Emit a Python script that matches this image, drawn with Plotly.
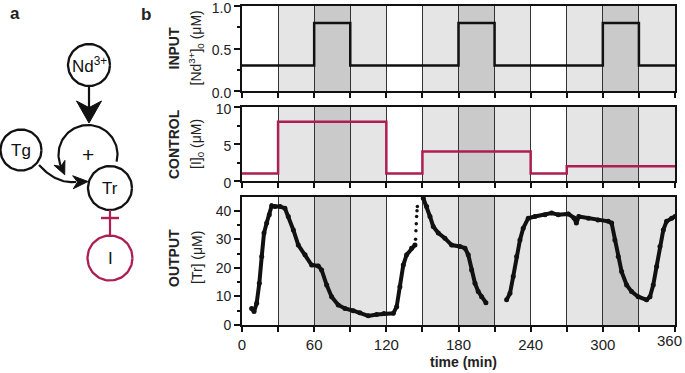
import numpy as np
import plotly.graph_objects as go

W, H = 685, 373

# ---------------- data ----------------
phase_start = [0, 30, 60, 90, 120, 150, 180, 210, 240, 270, 300, 330]
phase_shade = [0, 1, 2, 1, 0, 1, 2, 1, 0, 1, 2, 1]   # 0 white, 1 light, 2 dark
phase_len = 30

input_t = [0, 60, 90, 180, 210, 300, 330, 360]
input_v = [0.3, 0.8, 0.3, 0.8, 0.3, 0.8, 0.3, 0.3]

control_t = [0, 30, 120, 150, 240, 270, 360]
control_v = [1, 8, 1, 4, 1, 2, 2]

out1_t = [8, 10, 12.2, 14.4, 16.4, 18.3, 20.5, 22.7, 24.7, 27.4, 31.6, 35.7, 38.5, 42.7, 46.8,
          52.4, 57.9, 63.4, 66.2, 70.4, 74.5, 80, 85.6, 92.5, 98, 105, 112, 118, 125.8, 128.6,
          131.3, 134.1, 136.9, 141, 143.8]
out1_v = [5.8, 4.7, 7.6, 14.6, 24, 32.2, 35.7, 38.6, 41.8, 41.5, 41.5, 40.9, 38, 33.3, 28,
          24.6, 21, 20.7, 19.3, 14, 9.9, 7, 5.8, 5, 4.3, 3.2, 3.7, 4.0, 4.1, 6.4,
          13.4, 21, 24.6, 26.9, 28]
sparse_t = [144.3, 144.6, 144.9, 145.2, 145.5, 145.8]
sparse_v = [30, 33, 35.5, 38, 40, 41.5]
out2_t = [150.7, 153.5, 156.3, 159, 163.2, 168.7, 174.3, 181.2, 185.4, 188.1, 190.9, 193.7,
          196.4, 199.2, 202.8]
out2_v = [44.4, 41.5, 38, 34.5, 32.2, 30.4, 28, 27.5, 26.9, 24.6, 19.3, 14.6, 11.7, 9.9, 7.8]
out3_t = [220, 222.8, 225.5, 228.3, 231.1, 233.8, 238, 243.5, 251.9, 257.4, 263, 271.3, 276,
          278, 280, 288, 296, 304.5, 307.3, 310, 312.8, 315.6, 319.8, 323.9, 329.4, 336.4,
          339.2, 341.9, 344.7, 347.5, 350.3, 353, 357.2, 360]
out3_v = [8.8, 11.1, 17, 24, 29.8, 33.9, 37.4, 38, 38.6, 39.2, 38.6, 38.9, 37.5,
          35.7, 38, 37.4, 36.8, 36.3, 35.7, 29.8, 24, 18.7, 14, 11.7, 9.9, 8.8,
          9.9, 14, 20.5, 27.5, 33.3, 36.3, 37.4, 38]

x_major = [0, 60, 120, 180, 240, 300]
x_minor = [30, 90, 150, 210, 270, 330, 360]
x_last_label = "360"

# ---------------- style ----------------
FONT = "Liberation Sans, Arial, sans-serif"
BLACK = "#111111"
CRIMSON = "#ad1f52"
SHADES = ["rgba(0,0,0,0)", "#e5e5e5", "#cacaca"]
TXT = "#222222"

def py(p):
    return 1 - p / H

def pxx(p):
    return p / W

fig = go.Figure()

# panel b traces
fig.add_trace(go.Scatter(x=input_t, y=input_v, mode="lines", line=dict(color=BLACK, width=2.5, shape="hv"),
                         xaxis="x", yaxis="y", hoverinfo="skip"))
fig.add_trace(go.Scatter(x=control_t, y=control_v, mode="lines", line=dict(color=CRIMSON, width=2.5, shape="hv"),
                         xaxis="x2", yaxis="y2", hoverinfo="skip"))
ot = out1_t + [None] + out2_t + [None] + out3_t
ov = out1_v + [None] + out2_v + [None] + out3_v
fig.add_trace(go.Scatter(x=ot, y=ov, mode="lines+markers", line=dict(color=BLACK, width=4),
                         marker=dict(color=BLACK, size=5), xaxis="x3", yaxis="y3", hoverinfo="skip",
                         connectgaps=False))
fig.add_trace(go.Scatter(x=sparse_t, y=sparse_v, mode="markers", marker=dict(color=BLACK, size=3.5),
                         xaxis="x3", yaxis="y3", hoverinfo="skip"))

# shading
shapes = []
for yr in ["y", "y2", "y3"]:
    xr = {"y": "x", "y2": "x2", "y3": "x3"}[yr]
    for s, lev in zip(phase_start, phase_shade):
        if lev == 0:
            continue
        shapes.append(dict(type="rect", xref=xr, yref=yr + " domain", x0=s, x1=s + phase_len, y0=0, y1=1,
                           fillcolor=SHADES[lev], line=dict(width=0), layer="below"))

# ---------------- panel a diagram (pixel-space axis) ----------------
def circle(cx, cy, r, n=90):
    a = np.linspace(0, 2 * np.pi, n)
    return list(cx + r * np.cos(a)), list(cy + r * np.sin(a))

def arrowhead(tip, d, length, halfw, notch=0.3):
    d = np.array(d, float); d /= np.linalg.norm(d)
    n = np.array([-d[1], d[0]])
    tip = np.array(tip, float)
    base = tip - d * length
    p1 = base + n * halfw
    p2 = base - n * halfw
    pn = base + d * length * notch
    pts = [tip, p1, pn, p2, tip]
    return [p[0] for p in pts], [p[1] for p in pts]

def add_line(xs, ys, color=BLACK, width=2.2, fill=False):
    fig.add_trace(go.Scatter(x=xs, y=ys, mode="lines", line=dict(color=color, width=width),
                             fill="toself" if fill else None, fillcolor=color if fill else None,
                             xaxis="x4", yaxis="y4", hoverinfo="skip"))

for (cx, cy, r, col) in [(89, 65, 21, BLACK), (21, 150, 20.5, BLACK), (110, 188, 22, BLACK), (110, 258, 22.5, CRIMSON)]:
    xs, ys = circle(cx, cy, r)
    add_line(xs, ys, col, 2.3)

# Nd -> loop arrow
add_line([89, 89], [86, 108])
ax_, ay_ = arrowhead((89, 123), (0, 1), 22, 12.5, 0.3)
add_line(ax_, ay_, BLACK, 1, fill=True)

# loop arc
th = np.radians(np.linspace(-14, 204, 80))
lcx, lcy, lr = 88, 154.5, 29.5
add_line(list(lcx + lr * np.cos(th)), list(lcy - lr * np.sin(th)))
te = th[-1]
endp = (lcx + lr * np.cos(te), lcy - lr * np.sin(te))
tang = (-np.sin(te), -np.cos(te))
ax_, ay_ = arrowhead((endp[0] + 9 * tang[0], endp[1] + 9 * tang[1]), tang, 13, 6, 0.3)
add_line(ax_, ay_, BLACK, 1, fill=True)

# Tg -> Tr curve
tt = np.linspace(0, 1, 40)
P0, P1, P2 = np.array([39, 165]), np.array([56, 184]), np.array([76, 182])
bz = np.outer((1 - tt) ** 2, P0) + np.outer(2 * (1 - tt) * tt, P1) + np.outer(tt ** 2, P2)
add_line(list(bz[:, 0]), list(bz[:, 1]))
ax_, ay_ = arrowhead((88, 181.5), (1, -0.05), 15, 6.5, 0.3)
add_line(ax_, ay_, BLACK, 1, fill=True)

# inhibition
add_line([110, 110], [210, 235.5], CRIMSON, 2.2)
add_line([101, 119], [218, 218], CRIMSON, 2.4)

annotations = []
def ann4(x, y, text, size=16, color=BLACK, bold=False):
    annotations.append(dict(xref="x4", yref="y4", x=x, y=y, text=("<b>%s</b>" % text) if bold else text,
                            showarrow=False, xanchor="center", yanchor="middle",
                            font=dict(family=FONT, size=size, color=color)))

ann4(89, 65, "Nd<sup>3+</sup>", 17)
ann4(21, 150, "Tg", 17)
ann4(110, 188, "Tr", 17)
ann4(110, 258, "I", 17)
ann4(88, 154, "+", 21)

def annp(x, y, text, size=14, angle=0, xanchor="center"):
    annotations.append(dict(xref="paper", yref="paper", x=pxx(x), y=py(y), text=text, showarrow=False,
                            xanchor=xanchor, yanchor="middle", textangle=angle,
                            font=dict(family=FONT, size=size, color=TXT)))

annp(15, 13, "<b>a</b>", 17)
annp(146, 14, "<b>b</b>", 17)
annp(174, 48.5, "<b>INPUT</b>", 14, -90)
annp(197, 48.5, "[Nd<sup>3+</sup>]<sub>0</sub> (μM)", 14, -90)
annp(174, 144, "<b>CONTROL</b>", 14, -90)
annp(197, 144, "[I]<sub>0</sub> (μM)", 14, -90)
annp(174, 258, "<b>OUTPUT</b>", 14, -90)
annp(197, 258, "[Tr] (μM)", 14, -90)
annp(463, 362, "<b>time (min)</b>", 14)
# last x tick label, kept inside the page edge
annotations.append(dict(xref="paper", yref="paper", x=pxx(684), y=py(340.5), text=x_last_label,
                        showarrow=False, xanchor="right", yanchor="middle",
                        font=dict(family=FONT, size=15, color=TXT)))

xdom = [pxx(242), pxx(675)]
common_x = dict(domain=xdom, range=[0, 360], tickvals=x_major,
                showgrid=True, gridcolor="#333333", gridwidth=1.4, zeroline=False,
                showline=True, linecolor=BLACK, linewidth=1.8, mirror=True,
                ticks="outside", ticklen=5, tickwidth=1.8, tickcolor=BLACK,
                ticklabeloverflow="allow",
                minor=dict(tickvals=x_minor, ticks="outside", ticklen=5, tickwidth=1.8, tickcolor=BLACK,
                           showgrid=True, gridcolor="#333333", gridwidth=1.4),
                tickfont=dict(family=FONT, size=15, color=TXT))
common_y = dict(showgrid=False, zeroline=False, showline=True, linecolor=BLACK, linewidth=1.8, mirror=True,
                ticks="outside", ticklen=6, tickwidth=1.8, tickcolor=BLACK,
                ticklabeloverflow="allow",
                tickfont=dict(family=FONT, size=14, color=TXT))

layout = dict(
    width=W, height=H, margin=dict(l=0, r=0, t=0, b=0, autoexpand=False),
    autosize=False,
    paper_bgcolor="white", plot_bgcolor="white", showlegend=False,
    shapes=shapes, annotations=annotations,
    xaxis=dict(common_x, anchor="y", showticklabels=False),
    xaxis2=dict(common_x, anchor="y2", showticklabels=False),
    xaxis3=dict(common_x, anchor="y3", showticklabels=True),
    yaxis=dict(common_y, anchor="x", domain=[py(91), py(6)], range=[0, 1], tickvals=[0, 0.5, 1.0],
               ticktext=["0.0", "0.5", "1.0"], ticklabelshift=2,
               minor=dict(tickvals=[0.25, 0.75], ticks="outside", ticklen=3, tickwidth=1.5, tickcolor=BLACK)),
    yaxis2=dict(common_y, anchor="x2", domain=[py(181), py(107)], range=[0, 10], tickvals=[0, 5, 10],
                ticklabelshift=2,
                minor=dict(tickvals=[2.5, 7.5], ticks="outside", ticklen=3, tickwidth=1.5, tickcolor=BLACK)),
    yaxis3=dict(common_y, anchor="x3", domain=[py(325), py(196.5)], range=[0, 45], tickvals=[0, 10, 20, 30, 40],
                minor=dict(tickvals=[5, 15, 25, 35], ticks="outside", ticklen=3, tickwidth=1.5, tickcolor=BLACK)),
    xaxis4=dict(domain=[0, pxx(230)], range=[0, 230], visible=False, anchor="y4", fixedrange=True),
    yaxis4=dict(domain=[0, 1], range=[H, 0], visible=False, anchor="x4", fixedrange=True),
)
fig.update_layout(**layout)
fig.write_html("out.html", config={"responsive": False, "displayModeBar": False},
               default_width="685px", default_height="373px")

# remove default page margins so the figure sits at the window origin
with open("out.html", "r", encoding="utf-8") as f:
    html = f.read()
style = "<style>html,body{margin:0;padding:0;overflow:hidden;}</style>"
if "<head>" in html:
    html = html.replace("<head>", "<head>" + style, 1)
else:
    html = style + html
with open("out.html", "w", encoding="utf-8") as f:
    f.write(html)
